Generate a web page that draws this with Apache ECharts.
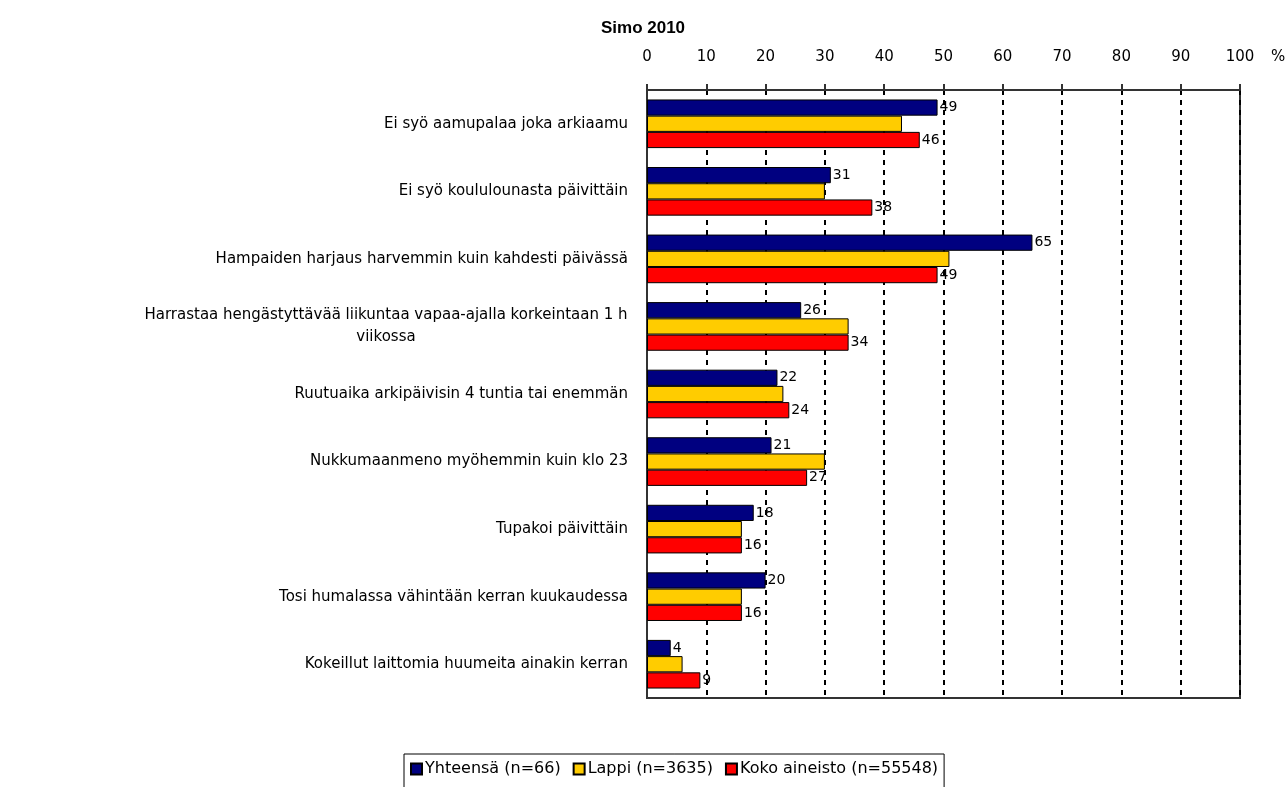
<!DOCTYPE html>
<html><head><meta charset="utf-8">
<script src="https://cdn.jsdelivr.net/npm/echarts@6/dist/echarts.min.js"></script>
<style>html,body{margin:0;padding:0;background:#fff}#c{width:1286px;height:787px}</style>
</head><body><div id="c"></div>
<script>
const categories = [
  'Ei syö aamupalaa joka arkiaamu',
  'Ei syö koululounasta päivittäin',
  'Hampaiden harjaus harvemmin kuin kahdesti päivässä',
  'Harrastaa hengästyttävää liikuntaa vapaa-ajalla korkeintaan 1 h\nviikossa',
  'Ruutuaika arkipäivisin 4 tuntia tai enemmän',
  'Nukkumaanmeno myöhemmin kuin klo 23',
  'Tupakoi päivittäin',
  'Tosi humalassa vähintään kerran kuukaudessa',
  'Kokeillut laittomia huumeita ainakin kerran'
];
const seriesNames = ['Yhteensä (n=66)', 'Lappi (n=3635)', 'Koko aineisto (n=55548)'];
const yhteensa = [49, 31, 65, 26, 22, 21, 18, 20, 4];
const lappi = [43, 30, 51, 34, 23, 30, 16, 16, 6];
const koko = [46, 38, 49, 34, 24, 27, 16, 16, 9];
const xTicks = [0, 10, 20, 30, 40, 50, 60, 70, 80, 90, 100];

const labelFont = '15px "DejaVu Sans"';
const ctx = document.createElement('canvas').getContext('2d');
ctx.font = labelFont;
const longFirst = categories.find(c => c.indexOf('\n') >= 0).split('\n')[0];
const longW = Math.ceil(ctx.measureText(longFirst).width);

const chart = echarts.init(document.getElementById('c'));
const barBase = {
  type: 'bar',
  barGap: '0%',
  barCategoryGap: '28%'
};
const lbl = {
  show: true, position: 'right', distance: 2,
  color: '#000', fontFamily: 'DejaVu Sans', fontSize: 14
};
chart.setOption({
  animation: false,
  title: [
    { text: 'Simo 2010', left: 'center', top: 15,
      textStyle: { fontFamily: 'Liberation Sans', fontWeight: 'bold', fontSize: 17, color: '#000' } },
    { text: '%', left: 1266, top: 45,
      textStyle: { fontFamily: 'DejaVu Sans', fontWeight: 'normal', fontSize: 15, color: '#000' } }
  ],
  grid: { left: 647, right: 46, top: 90, bottom: 89, show: true, borderColor: '#333', borderWidth: 2, backgroundColor: 'transparent' },
  legend: {
    data: seriesNames, left: 404, top: 754,
    orient: 'horizontal',
    itemWidth: 11, itemHeight: 11, itemGap: 12,
    padding: [7, 6, 12, 6],
    borderColor: '#000', borderWidth: 1,
    icon: 'rect',
    textStyle: { fontFamily: 'DejaVu Sans', fontSize: 16, color: '#000', padding: [0, 0, 0, -2] }
  },
  xAxis: {
    type: 'value', position: 'top', min: 0, max: 100, interval: 10,
    axisLine: { show: true, lineStyle: { color: '#333', width: 2 } },
    axisTick: { show: true, length: 6, lineStyle: { color: '#333', width: 2 } },
    axisLabel: { margin: 25, color: '#000', fontFamily: 'DejaVu Sans', fontSize: 15,
      formatter: v => xTicks.includes(v) ? String(v) : '' },
    splitLine: { show: true, lineStyle: { color: '#000', width: 2, type: [5, 5] } }
  },
  yAxis: {
    type: 'category', data: categories, inverse: true,
    axisLine: { show: true, lineStyle: { color: '#333', width: 2 } },
    axisTick: { show: false },
    axisLabel: {
      margin: 19, color: '#000', fontFamily: 'DejaVu Sans', fontSize: 15, lineHeight: 22,
      formatter: function (v) {
        if (v.indexOf('\n') >= 0) {
          return v.split('\n').map(p => '{c|' + p + '}').join('\n');
        }
        return v;
      },
      rich: { c: { width: longW, align: 'center', fontFamily: 'DejaVu Sans', fontSize: 15, lineHeight: 22, color: '#000' } }
    }
  },
  series: [
    Object.assign({}, barBase, { name: seriesNames[0], data: yhteensa, itemStyle: { color: '#000080', borderColor: '#000', borderWidth: 1 }, label: lbl }),
    Object.assign({}, barBase, { name: seriesNames[1], data: lappi, itemStyle: { color: '#FFCC00', borderColor: '#000', borderWidth: 1 } }),
    Object.assign({}, barBase, { name: seriesNames[2], data: koko, itemStyle: { color: '#FF0000', borderColor: '#000', borderWidth: 1 }, label: lbl })
  ]
});
</script></body></html>
